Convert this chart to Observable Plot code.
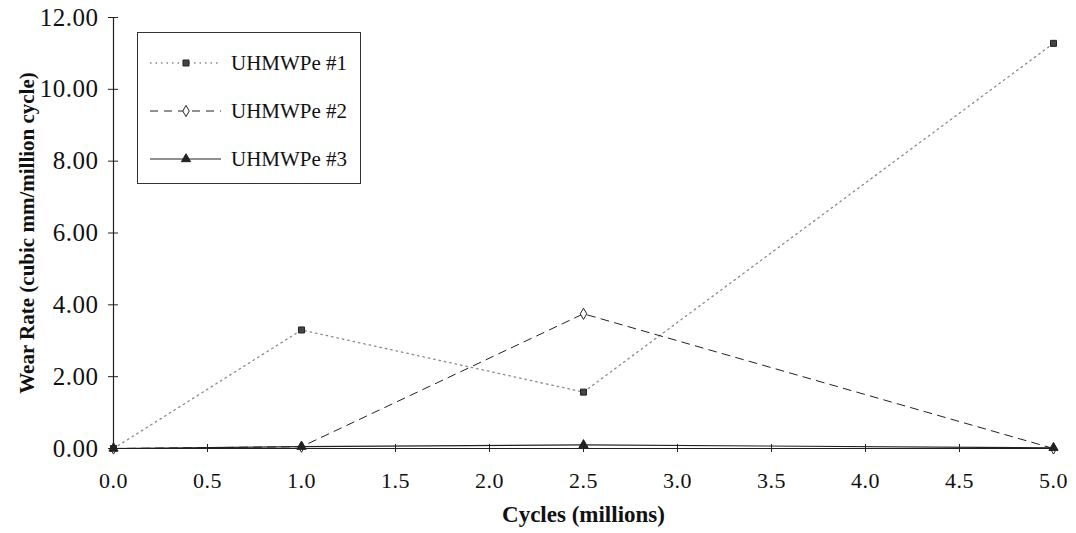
<!DOCTYPE html>
<html>
<head>
<meta charset="utf-8">
<script src="https://cdn.jsdelivr.net/npm/d3@7"></script>
<script src="https://cdn.jsdelivr.net/npm/@observablehq/plot@0.6"></script>
<style>
  html, body { margin: 0; padding: 0; background: #fff; }
  #wrap { position: relative; width: 1076px; height: 533px; font-family: "Liberation Serif", "Times New Roman", serif; }
  #wrap svg text { font-family: "Liberation Serif", "Times New Roman", serif; }
  .chart g[aria-label="y-axis tick label"] text { font-size: 25px !important; letter-spacing: 0.5px; }
  .chart g[aria-label="x-axis tick label"] text { font-size: 22px !important; letter-spacing: 0.5px; }
  #legend { position: absolute; left: 137px; top: 32px; width: 224px; height: 152px; border: 1.3px solid #333; box-sizing: border-box; background: #fff; }
  .item { position: absolute; left: 0; height: 24px; display: flex; align-items: center; }
  .item svg { display: block; }
  .item span { font-size: 21px; color: #111; margin-left: 8px; }
</style>
</head>
<body>
<div id="wrap"></div>
<script>
const cycles = [0.0, 1.0, 2.5, 5.0];
const series = ["UHMWPe #1", "UHMWPe #2", "UHMWPe #3"];
const uhmwpe1 = [0.00, 3.30, 1.57, 11.28];
const uhmwpe2 = [0.00, 0.05, 3.75, 0.00];
const uhmwpe3 = [0.00, 0.05, 0.10, 0.02];
const xTicks = [0, 0.5, 1.0, 1.5, 2.0, 2.5, 3.0, 3.5, 4.0, 4.5, 5.0];
const yTicks = [0, 2, 4, 6, 8, 10, 12];
const xTitle = "Cycles (millions)";
const yTitle = "Wear Rate (cubic mm/million cycle)";

const values = [uhmwpe1, uhmwpe2, uhmwpe3];
const data = series.flatMap((s, i) => cycles.map((c, j) => ({series: s, x: c, y: values[i][j]})));
const styles = {
  "UHMWPe #1": {stroke: "#888", dash: "1.5,4", symbol: "square", fill: "#444", width: 1.3},
  "UHMWPe #2": {stroke: "#222", dash: "8,6", symbol: "diamond", fill: "white", width: 1},
  "UHMWPe #3": {stroke: "#222", dash: null, symbol: "triangle", fill: "#222", width: 1.2}
};

const lineMarks = series.map(s => Plot.line(data.filter(d => d.series === s), {
  x: "x", y: "y", stroke: styles[s].stroke, strokeWidth: styles[s].width,
  strokeDasharray: styles[s].dash
}));
const dotMarks = series.map(s => Plot.dot(data.filter(d => d.series === s), {
  x: "x", y: "y", symbol: () => styles[s].symbol, r: 3.4,
  fill: styles[s].fill, stroke: "#222", strokeWidth: 1
}));

const chart = Plot.plot({
  className: "chart",
  width: 1076, height: 533,
  marginLeft: 113, marginRight: 23, marginTop: 17, marginBottom: 85,
  x: {domain: [0, 5], axis: null},
  y: {domain: [0, 12], axis: null},
  symbol: {type: "identity"},
  style: {fontFamily: "Liberation Serif", background: "white", color: "#111"},
  marks: [
    Plot.ruleX([0], {stroke: "#222", strokeWidth: 1.2}),
    Plot.ruleY([0], {stroke: "#222", strokeWidth: 1.2}),
    Plot.axisY({ticks: yTicks, tickSize: 10, dx: 5, tickFormat: () => "", label: null, stroke: "#222"}),
    Plot.axisY({ticks: yTicks, tickSize: 0, tickPadding: 15, tickFormat: d => d.toFixed(2), label: null, fontSize: 25, fill: "#111"}),
    Plot.axisX({ticks: xTicks, tickSize: 8, dy: -4, tickFormat: () => "", label: null, stroke: "#222"}),
    Plot.axisX({ticks: xTicks, tickSize: 0, tickPadding: 24, tickFormat: d => d.toFixed(1), label: null, fontSize: 22, fill: "#111"}),
    ...lineMarks,
    ...dotMarks,
    Plot.text([yTitle], {frameAnchor: "left", textAnchor: "middle", rotate: -90, dx: -86, fontSize: 21, fontWeight: "bold", fill: "#111", text: d => d}),
    Plot.text([xTitle], {frameAnchor: "bottom", textAnchor: "middle", dy: 73, fontSize: 23, fontWeight: "bold", fill: "#111", text: d => d})
  ]
});

const wrap = document.getElementById("wrap");
wrap.appendChild(chart);

// Legend overlay
const legend = document.createElement("div");
legend.id = "legend";
const legendY = [18, 66, 114];
series.forEach((s, i) => {
  const st = styles[s];
  const item = document.createElement("div");
  item.className = "item";
  item.style.top = legendY[i] + "px";
  const svg = d3.create("svg").attr("width", 85).attr("height", 24);
  svg.append("line").attr("x1", 12).attr("x2", 83).attr("y1", 12).attr("y2", 12)
    .attr("stroke", st.stroke).attr("stroke-width", st.width)
    .attr("stroke-dasharray", st.dash);
  const sym = d3.symbol().type(st.symbol === "square" ? d3.symbolSquare : st.symbol === "diamond" ? d3.symbolDiamond : d3.symbolTriangle).size(Math.PI * 3.4 * 3.4);
  svg.append("path").attr("d", sym()).attr("transform", "translate(48,12)")
    .attr("fill", st.fill).attr("stroke", "#222").attr("stroke-width", 1);
  item.appendChild(svg.node());
  const label = document.createElement("span");
  label.textContent = s;
  item.appendChild(label);
  legend.appendChild(item);
});
wrap.appendChild(legend);
</script>
</body>
</html>
